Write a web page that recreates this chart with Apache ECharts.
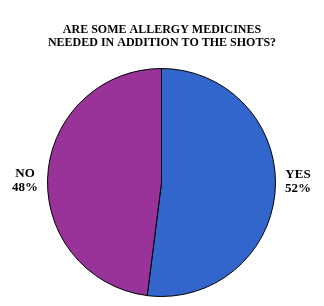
<!DOCTYPE html>
<html><head><meta charset="utf-8">
<script src="https://cdn.jsdelivr.net/npm/echarts@6/dist/echarts.min.js"></script>
<style>html,body{margin:0;padding:0;background:#fff}#c{width:324px;height:306px}</style>
</head><body><div id="c"></div>
<script>
const titleText = 'ARE SOME ALLERGY MEDICINES\nNEEDED IN ADDITION TO THE SHOTS?';
const categories = ['YES', 'NO'];
const values = [52, 48];
const colors = ['#3366CC', '#993399'];

const chart = echarts.init(document.getElementById('c'), null, {renderer: 'canvas'});
chart.setOption({
  animation: false,
  backgroundColor: '#fff',
  title: {
    text: titleText, left: 'center', top: 18,
    textStyle: {fontFamily: 'Liberation Serif', fontWeight: 'bold', fontSize: 12, lineHeight: 13, color: '#000'}
  },
  series: [{
    type: 'pie',
    center: [161.5, 182.5],
    radius: 114,
    startAngle: 90,
    clockwise: true,
    avoidLabelOverlap: false,
    data: categories.map((c, i) => ({name: c, value: values[i], itemStyle: {color: colors[i]}})),
    itemStyle: {borderColor: '#000', borderWidth: 1},
    label: {
      show: true, position: 'outside',
      formatter: '{b}\n{d}%',
      fontFamily: 'Liberation Serif', fontWeight: 'bold', fontSize: 13, lineHeight: 14, color: '#000'
    },
    labelLine: {show: false, length: 5, length2: 0},
    labelLayout: function (p) {
      const right = p.align === 'left';
      return {
        x: right ? p.rect.x + p.rect.width + 22 : p.rect.x - 22,
        y: p.rect.y + p.rect.height / 2 - 1,
        align: 'center',
        verticalAlign: 'middle'
      };
    },
    emphasis: {disabled: true}
  }]
});
</script></body></html>
